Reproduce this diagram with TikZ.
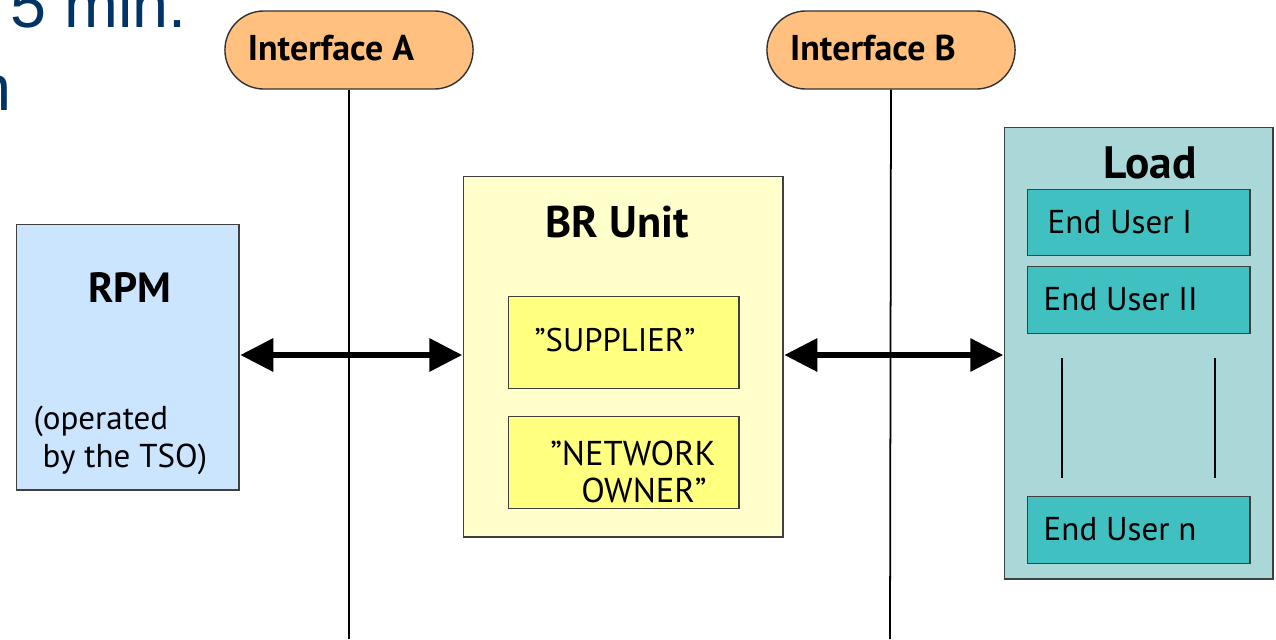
\documentclass[tikz,border=0pt]{standalone}
\usepackage{fontspec}
\setmainfont{PT Sans}
\newfontfamily\slidefont{Liberation Sans}
\usetikzlibrary{arrows.meta,shapes.misc,positioning}

\definecolor{slideblue}{HTML}{003366}
\definecolor{ifaceorange}{HTML}{FFC080}
\definecolor{rpmblue}{HTML}{CCE5FF}
\definecolor{brpale}{HTML}{FFFFCC}
\definecolor{partyellow}{HTML}{FFFF80}
\definecolor{loadteal}{HTML}{AAD8D8}
\definecolor{userteal}{HTML}{40C0C0}

\begin{document}
\begin{tikzpicture}[x=0.01cm,y=-0.01cm,
	box/.style={draw=black!75, line width=0.4pt, inner sep=0pt, anchor=north west},
	iface/.style={rounded rectangle, draw=black!80, line width=0.4pt, fill=ifaceorange, minimum width=2.48cm, minimum height=0.78cm, inner sep=0pt},
	ifacetext/.style={font=\bfseries\fontsize{10.2}{12}\selectfont, inner sep=0pt},
	title/.style={font=\bfseries\fontsize{12}{14}\selectfont, inner sep=0pt, anchor=base},
	body/.style={font=\fontsize{9.4}{10.8}\selectfont, inner sep=0pt},
	slide/.style={font=\slidefont\fontsize{18.4}{22}\selectfont, text=slideblue, inner sep=0pt},
	biarrow/.style={line width=1.8pt, {Triangle[length=0.33cm,width=0.32cm]}-{Triangle[length=0.33cm,width=0.32cm]}, shorten <=0.2pt, shorten >=0.2pt}]

	\useasboundingbox (0,0) rectangle (1276,639);
	\clip (0,0) rectangle (1276,639);

	% cut-off slide text
	\node[slide, anchor=base west] (slideA) at (10,27) {5 min.};
	\node[slide, anchor=base east] (slideB) at (12,110) {n};

	% interfaces
	\node[iface] (ifaceA) at (349,50) {};
	\node[ifacetext] (ifaceAtext) at (331,48) {Interface A};
	\node[iface] (ifaceB) at (891,50) {};
	\node[ifacetext] (ifaceBtext) at (873,48) {Interface B};

	\coordinate (endA) at (349,639);
	\coordinate (endB) at (890,639);
	\draw[line width=0.5pt] (ifaceA.south) -- (endA);
	\draw[line width=0.5pt] (ifaceB.south) -- (endB);

	% RPM
	\node[box, fill=rpmblue, minimum width=2.22cm, minimum height=2.65cm] (rpm) at (16,224) {};
	\node[title] (rpmtitle) at (130,302) {RPM};
	\node[body, anchor=base west, align=left] (rpmnote) at (33,467) {(operated\\\hspace*{0.09cm}by the TSO)};

	% BR unit
	\node[box, fill=brpale, minimum width=3.19cm, minimum height=3.60cm] (br) at (463,176) {};
	\node[title, font=\bfseries\fontsize{12.6}{14}\selectfont] (brtitle) at (617,237) {BR Unit};
	\node[box, fill=partyellow, minimum width=2.30cm, minimum height=0.92cm] (supplier) at (508,296) {};
	\node[body, font=\fontsize{9.3}{11}\selectfont] (suppliertext) at (615,340) {”SUPPLIER”};
	\node[box, fill=partyellow, minimum width=2.30cm, minimum height=0.92cm] (owner) at (508,416) {};
	\node[body, font=\fontsize{9.8}{10.6}\selectfont, align=left] (ownertext) at (633,472) {\hspace*{0pt}”NETWORK\\\hspace*{0.31cm}OWNER”};

	% Load
	\node[box, fill=loadteal, minimum width=2.68cm, minimum height=4.51cm] (load) at (1004,127) {};
	\node[title, font=\bfseries\fontsize{12.9}{15}\selectfont] (loadtitle) at (1150,178) {Load};
	\node[box, fill=userteal, minimum width=2.22cm, minimum height=0.66cm] (userI) at (1027,189) {};
	\node[body, anchor=west] (userItext) at (1047,222) {End User I};
	\node[box, fill=userteal, minimum width=2.22cm, minimum height=0.67cm] (userII) at (1027,266) {};
	\node[body, anchor=west] (userIItext) at (1043,299) {End User II};
	\node[box, fill=userteal, minimum width=2.22cm, minimum height=0.67cm] (usern) at (1027,496) {};
	\node[body, anchor=west] (userntext) at (1043,529) {End User n};
	\draw[line width=0.5pt] (1062,358) -- (1062,478);
	\draw[line width=0.5pt] (1215,358) -- (1215,478);

	% links
	\draw[biarrow] (rpm.east |- 0,355) -- (br.west |- 0,355);
	\draw[biarrow] (br.east |- 0,355) -- (load.west |- 0,355);

\end{tikzpicture}
\end{document}
